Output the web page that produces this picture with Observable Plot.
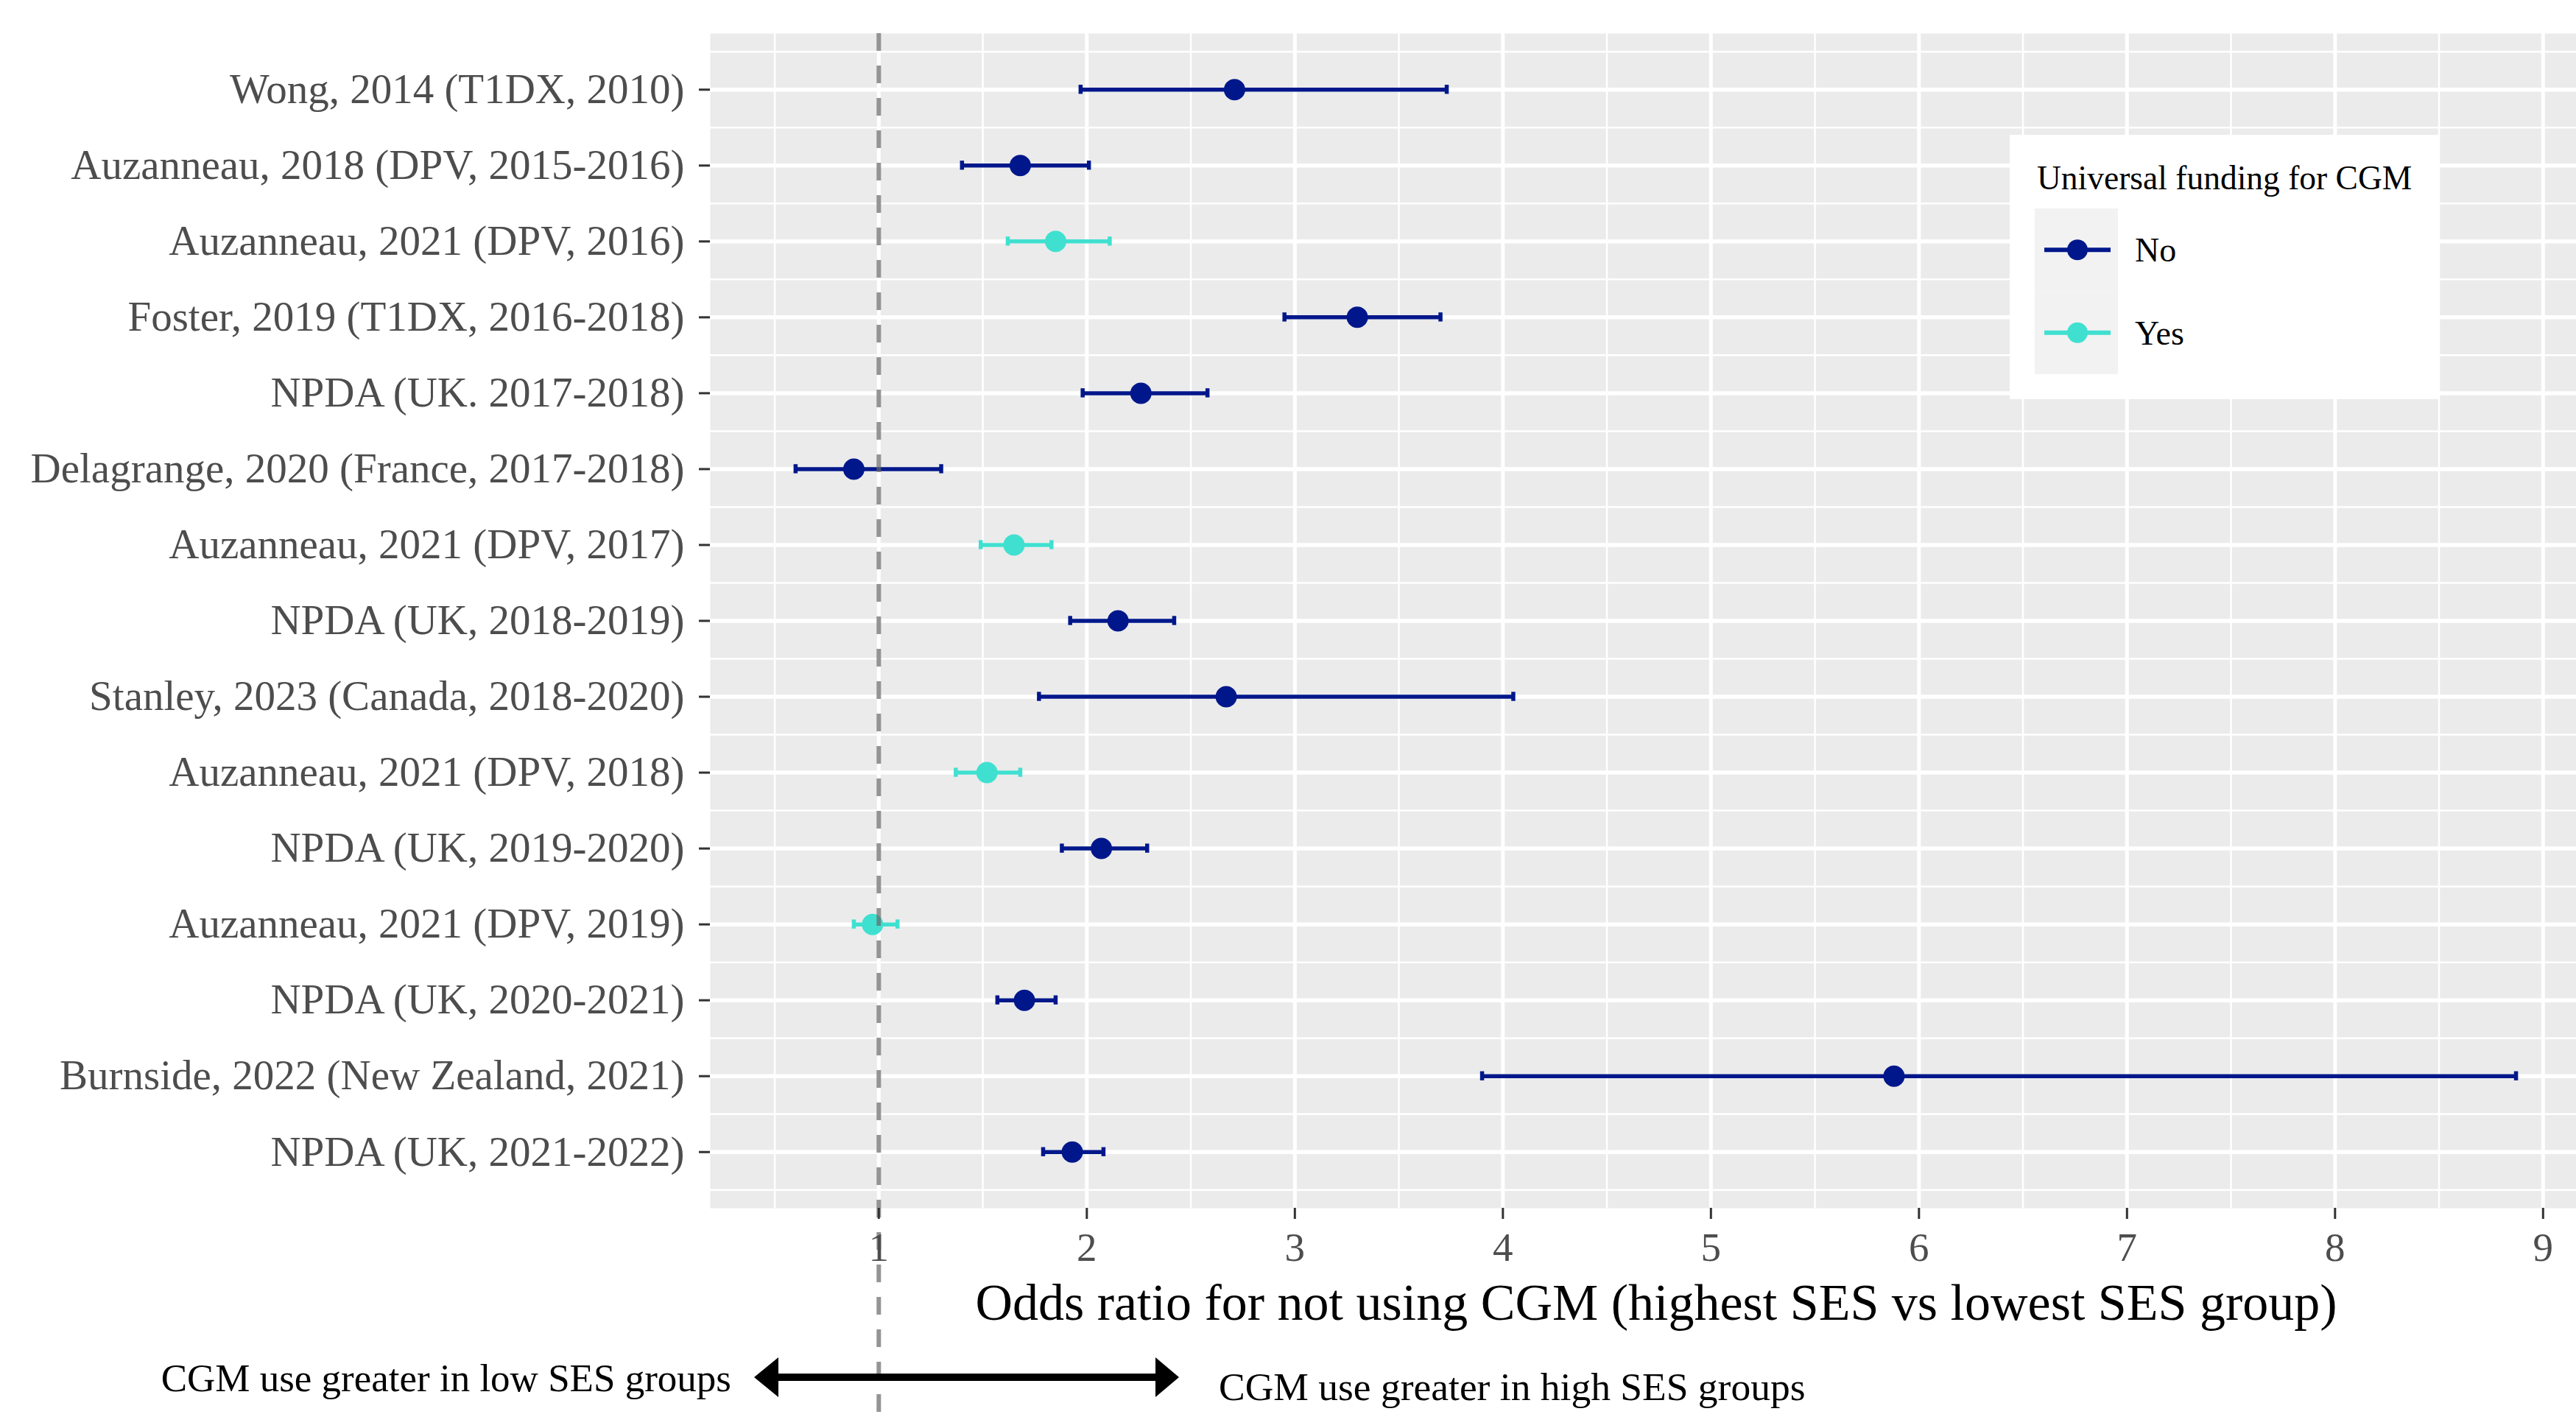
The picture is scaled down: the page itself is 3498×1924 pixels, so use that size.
<!DOCTYPE html>
<html>
<head>
<meta charset="utf-8">
<script src="https://cdn.jsdelivr.net/npm/d3@7"></script>
<script src="https://cdn.jsdelivr.net/npm/@observablehq/plot@0.6"></script>
<style>
  html, body { margin: 0; padding: 0; background: #fff; overflow: hidden; }
  #wrap { position: relative; width: 3498px; height: 1924px; font-family: "Liberation Serif", "Times New Roman", serif; }
  #wrap > svg { position: absolute; left: 0; top: 0; }
  #overlay { pointer-events: none; }
</style>
</head>
<body>
<div id="wrap"></div>
<script>
// ---------------- data ----------------
const studies = [
  "Wong, 2014 (T1DX, 2010)",
  "Auzanneau, 2018 (DPV, 2015-2016)",
  "Auzanneau, 2021 (DPV, 2016)",
  "Foster, 2019 (T1DX, 2016-2018)",
  "NPDA (UK. 2017-2018)",
  "Delagrange, 2020 (France, 2017-2018)",
  "Auzanneau, 2021 (DPV, 2017)",
  "NPDA (UK, 2018-2019)",
  "Stanley, 2023 (Canada, 2018-2020)",
  "Auzanneau, 2021 (DPV, 2018)",
  "NPDA (UK, 2019-2020)",
  "Auzanneau, 2021 (DPV, 2019)",
  "NPDA (UK, 2020-2021)",
  "Burnside, 2022 (New Zealand, 2021)",
  "NPDA (UK, 2021-2022)"
];
const oddsRatio = [2.71, 1.68, 1.85, 3.30, 2.26, 0.88, 1.65, 2.15, 2.67, 1.52, 2.07, 0.97, 1.70, 5.88, 1.93];
const ciLower   = [1.97, 1.40, 1.62, 2.95, 1.98, 0.60, 1.49, 1.92, 1.77, 1.37, 1.88, 0.88, 1.57, 3.90, 1.79];
const ciUpper   = [3.73, 2.01, 2.11, 3.70, 2.58, 1.30, 1.83, 2.42, 4.05, 1.68, 2.29, 1.09, 1.85, 8.87, 2.08];
const universalFunding = ["No","No","Yes","No","No","No","Yes","No","No","Yes","No","Yes","No","No","No"];
const fundingLevels = ["No", "Yes"];
const fundingColors = ["#00178B", "#40E0D0"];
const legendTitle = "Universal funding for CGM";
const xTicks = [1, 2, 3, 4, 5, 6, 7, 8, 9];
const xTitle = "Odds ratio for not using CGM (highest SES vs lowest SES group)";
const noteLow = "CGM use greater in low SES groups";
const noteHigh = "CGM use greater in high SES groups";
const referenceOR = 1;

// ---------------- build ----------------
const rows = studies.map((s, i) => ({
  study: s, row: i + 1, or: oddsRatio[i], lo: ciLower[i], hi: ciUpper[i], funding: universalFunding[i]
}));
const rowIdx = rows.map(d => d.row);
const minorY = d3.range(0, studies.length + 1).map(i => i + 0.5);
const minorX = d3.range(0, xTicks.length).map(i => xTicks[i] - 0.5);

const W = 3498, H = 1924;
const plot = Plot.plot({
  width: W, height: H,
  marginLeft: 964, marginRight: 0, marginTop: 45, marginBottom: 284,
  style: { fontFamily: "Liberation Serif, Times New Roman, serif", fontSize: "57px", background: "#fff", overflow: "visible" },
  x: { domain: [0.19, 9.16] },
  y: { domain: [0.26, studies.length + 0.74], reverse: true },
  color: { domain: fundingLevels, range: fundingColors },
  marks: [
    Plot.frame({ fill: "#EBEBEB", stroke: null }),
    Plot.ruleX(minorX, { stroke: "#fff", strokeWidth: 2.5 }),
    Plot.ruleY(minorY, { stroke: "#fff", strokeWidth: 2.5 }),
    Plot.ruleX(xTicks, { stroke: "#fff", strokeWidth: 5 }),
    Plot.ruleY(rows, { y: "row", stroke: "#fff", strokeWidth: 5.5 }),
    Plot.ruleY(rows, { y: "row", x1: "lo", x2: "hi", stroke: "funding", strokeWidth: 5.5 }),
    Plot.ruleX(rows, { x: "lo", y1: d => d.row - 0.06, y2: d => d.row + 0.06, stroke: "funding", strokeWidth: 5.5 }),
    Plot.ruleX(rows, { x: "hi", y1: d => d.row - 0.06, y2: d => d.row + 0.06, stroke: "funding", strokeWidth: 5.5 }),
    Plot.dot(rows, { x: "or", y: "row", r: 14.5, fill: "funding" }),
    Plot.ruleX([referenceOR], { stroke: "#666", strokeOpacity: 0.7, strokeWidth: 6, strokeDasharray: "24,20", insetBottom: -280 }),
    Plot.axisX({ ticks: xTicks, tickFormat: d => String(d), tickSize: 15, tickPadding: 17, stroke: "#333", strokeWidth: 3, fill: "#4D4D4D", fontSize: 55, label: null }),
    Plot.axisY({ ticks: rowIdx, tickFormat: i => studies[i - 1], tickSize: 15, tickPadding: 20, stroke: "#333", strokeWidth: 3, fill: "#4D4D4D", fontSize: 57, label: null })
  ]
});
const wrap = document.getElementById("wrap");
wrap.appendChild(plot);

// ---------------- overlay: legend, axis title, arrow annotation ----------------
const ov = d3.select(wrap).append("svg").attr("id", "overlay")
  .attr("width", W).attr("height", H)
  .style("font-family", "Liberation Serif, Times New Roman, serif");

// legend
const lg = ov.append("g");
lg.append("rect").attr("x", 2729).attr("y", 183).attr("width", 583).attr("height", 359).attr("fill", "#fff");
lg.append("text").attr("x", 2766).attr("y", 257).attr("font-size", 45.5).attr("fill", "#000").text(legendTitle);
const keyH = 112.5;
fundingLevels.forEach((lvl, i) => {
  const y0 = 283 + i * keyH, cy = y0 + keyH / 2;
  lg.append("rect").attr("x", 2763).attr("y", y0).attr("width", 113).attr("height", keyH).attr("fill", "#F2F2F2");
  lg.append("line").attr("x1", 2776).attr("x2", 2866).attr("y1", cy).attr("y2", cy)
    .attr("stroke", fundingColors[i]).attr("stroke-width", 6);
  lg.append("circle").attr("cx", 2821).attr("cy", cy).attr("r", 14).attr("fill", fundingColors[i]);
  lg.append("text").attr("x", 2899).attr("y", cy + 16).attr("font-size", 46).attr("fill", "#000").text(lvl);
});

// x axis title
ov.append("text").attr("x", 2249).attr("y", 1792).attr("text-anchor", "middle")
  .attr("font-size", 70).attr("fill", "#000").text(xTitle);

// double-headed arrow
ov.append("path")
  .attr("d", "M1024,1870 L1057,1843 L1057,1865 L1569,1865 L1569,1843 L1601,1870 L1569,1897 L1569,1875 L1057,1875 L1057,1897 Z")
  .attr("fill", "#000");
ov.append("text").attr("x", 993).attr("y", 1889).attr("text-anchor", "end")
  .attr("font-size", 53).attr("fill", "#000").text(noteLow);
ov.append("text").attr("x", 1655).attr("y", 1901).attr("text-anchor", "start")
  .attr("font-size", 53.5).attr("fill", "#000").text(noteHigh);
</script>
</body>
</html>
